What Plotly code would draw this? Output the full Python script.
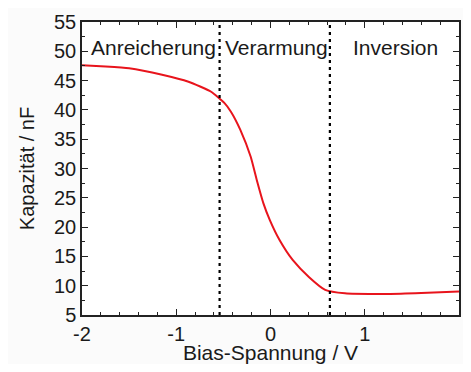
import plotly.graph_objects as go

bias_v = [-2.0, -1.75, -1.5, -1.15, -0.87, -0.63, -0.49, -0.42, -0.32, -0.21, -0.145, -0.076, -0.007, 0.096, 0.235, 0.407, 0.58, 0.79, 1.27, 1.6, 2.0]
capacitance_nf = [47.6, 47.4, 47.1, 46.0, 44.8, 43.1, 41.2, 39.7, 36.6, 32.0, 28.0, 24.1, 21.2, 17.8, 14.4, 11.5, 9.3, 8.7, 8.6, 8.75, 9.0]

x_tick_vals = [-2, -1, 0, 1, 2]
x_tick_text = ["-2", "-1", "0", "1", "2"]
y_tick_vals = [5, 10, 15, 20, 25, 30, 35, 40, 45, 50, 55]

boundaries_v = [-0.54, 0.63]
region_labels = ["Anreicherung", "Verarmung", "Inversion"]
region_label_x = [-1.24, 0.06, 1.33]
region_label_y = 50.6

FONT = "Liberation Sans, Arial, sans-serif"
TXT = "#1a1a1a"

fig = go.Figure()
fig.add_trace(go.Scatter(x=bias_v, y=capacitance_nf, mode="lines",
                         line=dict(color="#e8141c", width=2, shape="spline", smoothing=0.5),
                         showlegend=False, hoverinfo="skip"))

for bx in boundaries_v:
    fig.add_shape(type="line", x0=bx, x1=bx, y0=5, y1=55, xref="x", yref="y",
                  line=dict(color="black", width=2.2, dash="3px,4px"))

for lbl, lx in zip(region_labels, region_label_x):
    fig.add_annotation(x=lx, y=region_label_y, text=lbl, showarrow=False,
                       font=dict(family=FONT, size=21, color=TXT), xanchor="center", yanchor="middle")

axis_common = dict(showline=True, linecolor="#222", linewidth=1.5, mirror="ticks",
                   ticks="inside", ticklen=6, tickwidth=1.2, tickcolor="#222",
                   showgrid=False, zeroline=False, automargin=False,
                   tickfont=dict(family=FONT, size=20, color=TXT))

fig.update_xaxes(range=[-2, 2], tickvals=x_tick_vals, ticktext=x_tick_text,
                 minor=dict(dtick=0.2, tick0=-2, ticks="inside", ticklen=3, tickcolor="#222"),
                 title=dict(text="Bias-Spannung / V", font=dict(family=FONT, size=21, color=TXT), standoff=14),
                 **axis_common)
fig.update_yaxes(range=[5, 55], tickvals=y_tick_vals,
                 minor=dict(dtick=2.5, tick0=5, ticks="inside", ticklen=3, tickcolor="#222"),
                 title=dict(text="Kapazität / nF", font=dict(family=FONT, size=20, color=TXT), standoff=14),
                 **axis_common)

fig.update_layout(width=455, height=356, margin=dict(l=74, r=4, t=14, b=49),
                  paper_bgcolor="#fbfbfb", plot_bgcolor="white")

fig.write_html("out.html")
